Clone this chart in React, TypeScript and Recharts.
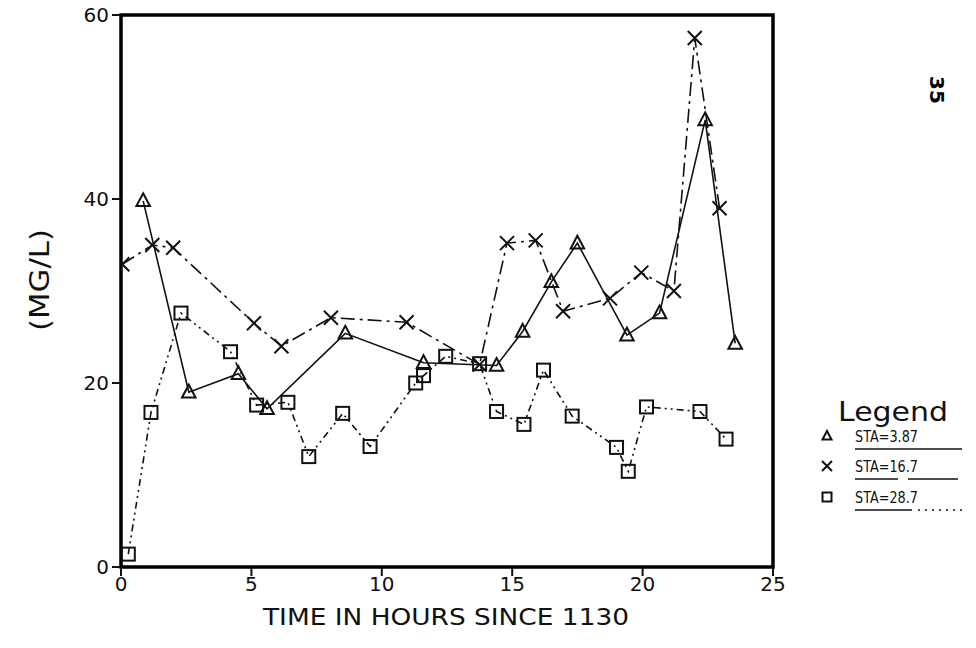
import React from 'react';
import { LineChart, Line, XAxis, YAxis, ReferenceArea } from 'recharts';

// STA=3.87 (triangles)
const sta387Hours = [0.85, 2.6, 4.5, 5.6, 8.6, 11.6, 14.4, 15.4, 16.5, 17.5, 19.4, 20.65, 22.4, 23.55];
const sta387Mg = [39.8, 19.0, 21.0, 17.2, 25.4, 22.2, 21.9, 25.6, 31.0, 35.2, 25.2, 27.6, 48.6, 24.3];
// STA=16.7 (crosses)
const sta167Hours = [0.05, 1.2, 2.0, 5.1, 6.15, 8.05, 10.95, 13.75, 14.8, 15.9, 16.95, 18.75, 19.95, 21.2, 22.0, 22.95];
const sta167Mg = [32.9, 35.0, 34.7, 26.5, 24.0, 27.1, 26.6, 22.0, 35.2, 35.5, 27.8, 29.2, 32.0, 30.0, 57.5, 39.0];
// STA=28.7 (squares)
const sta287Hours = [0.28, 1.15, 2.3, 4.2, 5.2, 6.4, 7.2, 8.5, 9.55, 11.3, 11.6, 12.45, 13.75, 14.4, 15.45, 16.2, 17.3, 19.0, 19.45, 20.15, 22.2, 23.2];
const sta287Mg = [1.4, 16.8, 27.6, 23.4, 17.6, 17.9, 12.0, 16.7, 13.1, 20.0, 20.8, 22.9, 22.1, 16.9, 15.5, 21.4, 16.4, 13.0, 10.4, 17.4, 16.9, 13.9];

const xTicks = [0, 5, 10, 15, 20, 25];
const yTicks = [0, 20, 40, 60];
const seriesNames = ['STA=3.87', 'STA=16.7', 'STA=28.7'];

const toRows = (xs: number[], ys: number[]) => xs.map((x, i) => ({ x, y: ys[i] }));
const d387 = toRows(sta387Hours, sta387Mg);
const d167 = toRows(sta167Hours, sta167Mg);
const d287 = toRows(sta287Hours, sta287Mg);

const FONT = '"DejaVu Sans", sans-serif';
const INK = '#111';

const Tri = ({ cx, cy, s = 7.5 }: any) => (
  <path d={`M${cx},${cy - s} L${cx + s * 0.9},${cy + s * 0.7} L${cx - s * 0.9},${cy + s * 0.7} Z`} fill="none" stroke={INK} strokeWidth={2} />
);
const Cross = ({ cx, cy, s = 7 }: any) => (
  <path d={`M${cx - s},${cy - s} L${cx + s},${cy + s} M${cx + s},${cy - s} L${cx - s},${cy + s}`} fill="none" stroke={INK} strokeWidth={2} />
);
const Sq = ({ cx, cy, s = 6.5 }: any) => (
  <rect x={cx - s} y={cy - s} width={2 * s} height={2 * s} fill="none" stroke={INK} strokeWidth={2} />
);

const DASH_167 = '14 5 3 5';
const DASH_287 = '7 4 2 4 2 4';

function LegendBox() {
  const rows = [
    { y: 436, mark: (x: number, y: number) => <Tri cx={x} cy={y} s={5} />, under: [{ a: 855, b: 962, dash: undefined as string | undefined }] },
    { y: 466, mark: (x: number, y: number) => <Cross cx={x} cy={y} s={5} />, under: [{ a: 855, b: 898, dash: undefined }, { a: 908, b: 958, dash: undefined }] },
    { y: 497, mark: (x: number, y: number) => <Sq cx={x} cy={y} s={4.5} />, under: [{ a: 855, b: 912, dash: undefined }, { a: 918, b: 962, dash: '2 5' }] },
  ];
  return (
    <svg width={976} height={648} style={{ position: 'absolute', left: 0, top: 0, pointerEvents: 'none' }}>
      <text x={838} y={421} textLength={110} lengthAdjust="spacingAndGlyphs" fontFamily={FONT} fontSize={27} fill={INK}>Legend</text>
      {rows.map((r, i) => (
        <g key={i}>
          {r.mark(827, r.y)}
          <text x={855} y={r.y + 6} textLength={63} lengthAdjust="spacingAndGlyphs" fontFamily={FONT} fontSize={16} fill={INK}>{seriesNames[i]}</text>
          {r.under.map((u, j) => (
            <line key={j} x1={u.a} x2={u.b} y1={r.y + 13} y2={r.y + 13} stroke={INK} strokeWidth={1.5} strokeDasharray={u.dash} />
          ))}
        </g>
      ))}
      <text x={937} y={90} transform="rotate(90 937 90)" textAnchor="middle" dominantBaseline="central" fontFamily={FONT} fontSize={20} fontWeight="bold" fill="#000">35</text>
    </svg>
  );
}

export default function App() {
  return (
    <div style={{ position: 'absolute', left: 0, top: 0, width: 976, height: 648, background: '#fff' }}>
      <LineChart width={976} height={648} margin={{ top: 15, right: 203, bottom: 0, left: 0 }}>
        <XAxis
          type="number"
          dataKey="x"
          domain={[0, 25]}
          ticks={xTicks}
          allowDataOverflow
          height={81}
          axisLine={false}
          tickLine={{ stroke: INK, strokeWidth: 2 }}
          tickSize={9}
          tickMargin={1}
          tick={{ fontFamily: FONT, fontSize: 20, fill: INK }}
          label={{
            content: () => (
              <text x={263} y={625} textLength={366} lengthAdjust="spacingAndGlyphs" fontFamily={FONT} fontSize={23} fill={INK}>TIME IN HOURS SINCE 1130</text>
            ),
          }}
        />
        <YAxis
          type="number"
          domain={[0, 60]}
          ticks={yTicks}
          width={121}
          axisLine={false}
          tickLine={{ stroke: INK, strokeWidth: 2 }}
          tickSize={9}
          tickMargin={3}
          tick={{ fontFamily: FONT, fontSize: 20, fill: INK }}
          label={{
            content: () => (
              <text x={40} y={280} transform="rotate(-90 40 280)" textAnchor="middle" dominantBaseline="central" textLength={102} lengthAdjust="spacingAndGlyphs" fontFamily={FONT} fontSize={26} fill={INK}>(MG/L)</text>
            ),
          }}
        />
        <ReferenceArea x1={0} x2={25} y1={0} y2={60} fill="none" fillOpacity={0} stroke="#000" strokeWidth={3.5} ifOverflow="visible" />
        <Line data={d387} dataKey="y" type="linear" stroke={INK} strokeWidth={1.6} isAnimationActive={false}
          dot={(p: any) => <Tri key={`t${p.index}`} cx={p.cx} cy={p.cy} />} />
        <Line data={d167} dataKey="y" type="linear" stroke={INK} strokeWidth={1.6} strokeDasharray={DASH_167} isAnimationActive={false}
          dot={(p: any) => <Cross key={`c${p.index}`} cx={p.cx} cy={p.cy} />} />
        <Line data={d287} dataKey="y" type="linear" stroke={INK} strokeWidth={1.6} strokeDasharray={DASH_287} isAnimationActive={false}
          dot={(p: any) => <Sq key={`s${p.index}`} cx={p.cx} cy={p.cy} />} />
      </LineChart>
      <LegendBox />
    </div>
  );
}
